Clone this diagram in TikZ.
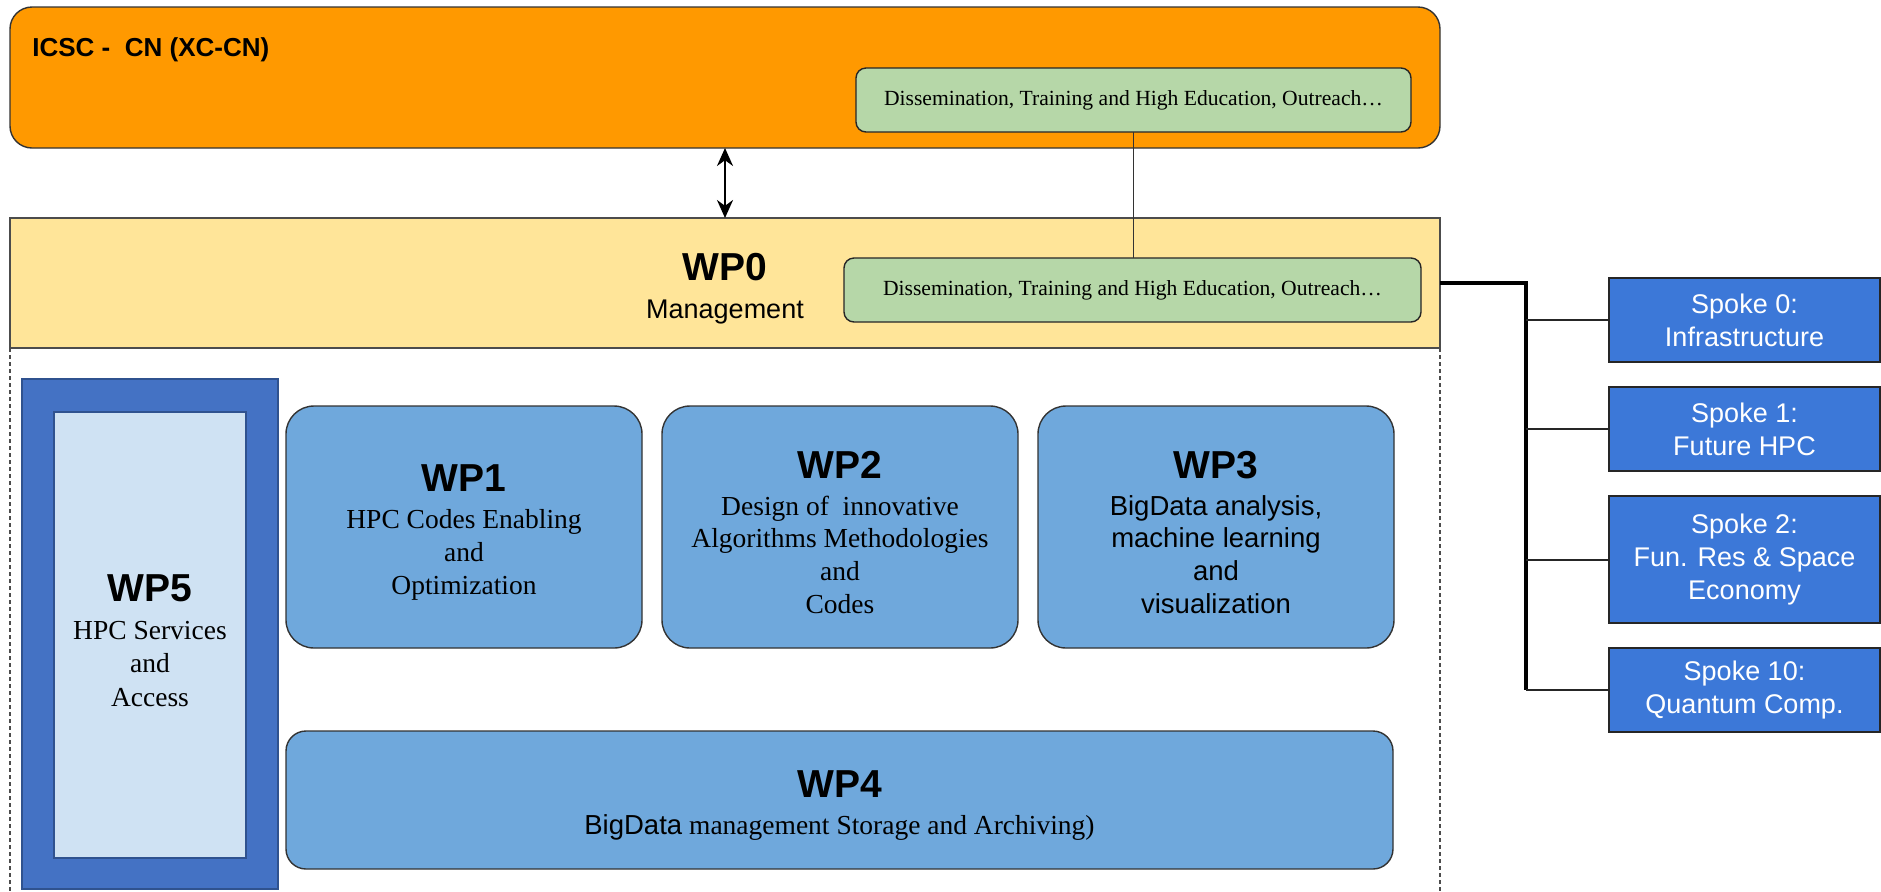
\documentclass[tikz,border=0pt]{standalone}
\usepackage{fontspec}
\setmainfont{Liberation Sans}
\newfontfamily\tnr{Liberation Serif}
\usepackage{tikz}
\usetikzlibrary{shapes.geometric, arrows.meta, positioning}

\definecolor{hubor}{HTML}{FF9900}
\definecolor{mgmt}{HTML}{FFE599}
\definecolor{outreach}{HTML}{B6D7A8}
\definecolor{wpblue}{HTML}{6FA8DC}
\definecolor{svcdark}{HTML}{4472C4}
\definecolor{svclight}{HTML}{CFE2F3}
\definecolor{svcline}{HTML}{2F528F}
\definecolor{spokeblue}{HTML}{3C78D8}

\newcommand{\wptitle}[1]{{\normalfont\bfseries\fontsize{19.5}{22}\selectfont\rule{0pt}{19pt}#1}}

\tikzstyle{hub} = [rectangle, rounded corners=11pt, minimum width=715pt, minimum height=70.5pt, draw=black!80, line width=0.7pt, fill=hubor, inner sep=0pt, outer sep=0pt]
\tikzstyle{mgmtbox} = [rectangle, minimum width=715pt, minimum height=65pt, draw=black!70, line width=0.7pt, fill=mgmt, align=center, inner sep=0pt, outer sep=0pt, font=\fontsize{13.5}{17}\selectfont]
\tikzstyle{outreachbox} = [rectangle, rounded corners=5pt, minimum height=32pt, draw=black!85, line width=0.7pt, fill=outreach, inner sep=0pt, outer sep=0pt, font=\tnr\fontsize{10.8}{13}\selectfont]
\tikzstyle{wpbox} = [rectangle, rounded corners=14pt, minimum width=178pt, minimum height=121pt, draw=black!80, line width=0.7pt, fill=wpblue, align=center, inner sep=0pt, outer sep=0pt, font=\tnr\fontsize{13.75}{16.4}\selectfont]
\tikzstyle{spoke} = [rectangle, minimum width=135.5pt, minimum height=42pt, draw=black!85, line width=0.8pt, fill=spokeblue, text=white, align=center, inner sep=0pt, outer sep=0pt, font=\fontsize{13.5}{16.5}\selectfont]
\tikzstyle{arrow} = [line width=1.2pt, {Stealth[length=9pt,width=8pt]}-{Stealth[length=9pt,width=8pt]}]
\tikzstyle{trunk} = [line width=1.6pt]
\tikzstyle{branch} = [line width=1pt, black!85]
\tikzstyle{frame} = [dash pattern=on 2pt off 1.5pt, line width=0.6pt, black!70]

\begin{document}
\begin{tikzpicture}[x=0.5pt, y=-0.5pt, node distance=12.5pt]
\useasboundingbox (0,0) rectangle (1881,891);

\node (hub) [hub] at (725,77.5) {};

\node (icsc) [anchor=base west, inner sep=0pt, font=\bfseries\fontsize{13}{15}\selectfont] at (32,56) {ICSC -\ \ CN (XC-CN)};

\node (out1) [outreachbox, minimum width=277.5pt] at (1133.5,100) {Dissemination, Training and High Education, Outreach…};

\node (wp0) [mgmtbox] at (725,283) {\wptitle{WP0}\\[2pt]Management};

\node (out2) [outreachbox, minimum width=288.5pt] at (1132.5,290) {Dissemination, Training and High Education, Outreach…};

\draw [frame] (wp0.south west) -- ++(0,600);

\draw [frame] (wp0.south east) -- ++(0,600);

\node (wp5frame) [rectangle, draw=svcline, fill=svcdark, line width=0.7pt, minimum width=128pt, minimum height=255pt, inner sep=0pt, outer sep=0pt] at (150,634) {};

\node (wp5) [wpbox, sharp corners, fill=svclight, draw=svcline, minimum width=96pt, minimum height=223pt, font=\tnr\fontsize{13.75}{16.8}\selectfont] at (150,635) {\wptitle{WP5}\\[2pt]HPC Services\\and\\Access};

\node (wp1) [wpbox] at (464,527) {\wptitle{WP1}\\[2pt]HPC Codes Enabling\\and\\Optimization};

\node (wp2) [wpbox, right=10pt of wp1] {\wptitle{WP2}\\[2pt]Design of\ \ innovative\\Algorithms Methodologies\\and\\Codes};

\node (wp3) [wpbox, right=10pt of wp2, font=\fontsize{13.75}{16.4}\selectfont] {\wptitle{WP3}\\[2pt]BigData analysis,\\machine learning\\and\\visualization};

\node (wp4) [wpbox, rounded corners=10pt, minimum width=553.5pt, minimum height=69pt] at (839.5,800) {\wptitle{WP4}\\[2pt]{\normalfont BigData} management Storage and Archiving)};

\node (spoke0) [spoke] at (1744.5,320) {Spoke 0:\\Infrastructure};

\node (spoke1) [spoke, below=of spoke0] {Spoke 1:\\Future HPC};

\node (spoke2) [spoke, below=of spoke1, minimum height=63.5pt] {Spoke 2:\\Fun. Res \& Space\\Economy};

\node (spoke10) [spoke, below=of spoke2] {Spoke 10:\\Quantum Comp.};

\draw [arrow] (hub) -- (wp0);

\draw [line width=0.6pt, black!80] (out1.south) -- (out1.south |- out2.north);

\coordinate (jn) at ([xshift=43pt]wp0.east);

\draw [trunk] (wp0.east) -- (jn) -- (jn |- spoke10.west);

\draw [branch] (jn |- spoke0.west) -- (spoke0.west);

\draw [branch] (jn |- spoke1.west) -- (spoke1.west);

\draw [branch] (jn |- spoke2.west) -- (spoke2.west);

\draw [branch] (jn |- spoke10.west) -- (spoke10.west);

\end{tikzpicture}
\end{document}
